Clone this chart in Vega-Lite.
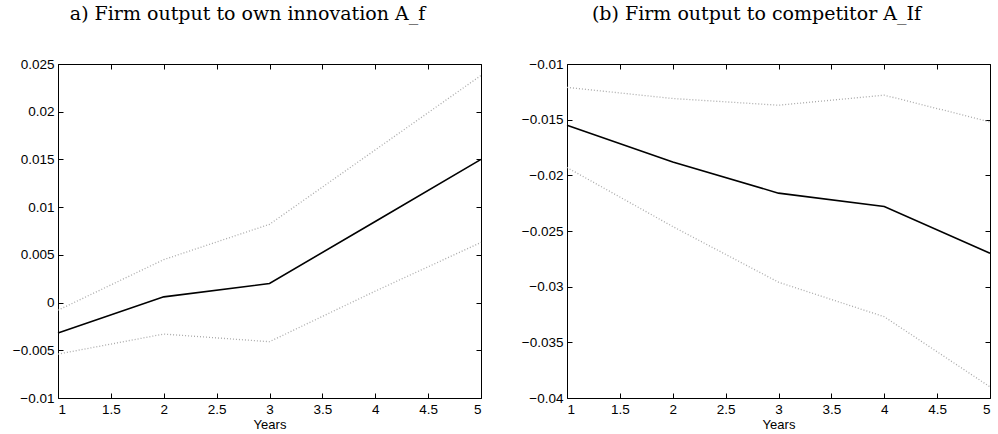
{
  "$schema": "https://vega.github.io/schema/vega-lite/v6.json",
  "background": "white",
  "padding": {"left": 11, "top": 4, "right": 2, "bottom": 0},
  "data": {"values": [
    {"panel": "a", "series": "irf", "year": 1, "value": -0.0032},
    {"panel": "a", "series": "irf", "year": 2, "value": 0.0006},
    {"panel": "a", "series": "irf", "year": 3, "value": 0.002},
    {"panel": "a", "series": "irf", "year": 4, "value": 0.0085},
    {"panel": "a", "series": "irf", "year": 5, "value": 0.015},
    {"panel": "a", "series": "upper", "year": 1, "value": -0.0008},
    {"panel": "a", "series": "upper", "year": 2, "value": 0.0045},
    {"panel": "a", "series": "upper", "year": 3, "value": 0.0082},
    {"panel": "a", "series": "upper", "year": 4, "value": 0.016},
    {"panel": "a", "series": "upper", "year": 5, "value": 0.0238},
    {"panel": "a", "series": "lower", "year": 1, "value": -0.0054},
    {"panel": "a", "series": "lower", "year": 2, "value": -0.0033},
    {"panel": "a", "series": "lower", "year": 3, "value": -0.0041},
    {"panel": "a", "series": "lower", "year": 4, "value": 0.0012},
    {"panel": "a", "series": "lower", "year": 5, "value": 0.0063},
    {"panel": "b", "series": "irf", "year": 1, "value": -0.0155},
    {"panel": "b", "series": "irf", "year": 2, "value": -0.0188},
    {"panel": "b", "series": "irf", "year": 3, "value": -0.0216},
    {"panel": "b", "series": "irf", "year": 4, "value": -0.0228},
    {"panel": "b", "series": "irf", "year": 5, "value": -0.027},
    {"panel": "b", "series": "upper", "year": 1, "value": -0.0121},
    {"panel": "b", "series": "upper", "year": 2, "value": -0.0131},
    {"panel": "b", "series": "upper", "year": 3, "value": -0.0137},
    {"panel": "b", "series": "upper", "year": 4, "value": -0.0128},
    {"panel": "b", "series": "upper", "year": 5, "value": -0.0152},
    {"panel": "b", "series": "lower", "year": 1, "value": -0.0193},
    {"panel": "b", "series": "lower", "year": 2, "value": -0.0246},
    {"panel": "b", "series": "lower", "year": 3, "value": -0.0296},
    {"panel": "b", "series": "lower", "year": 4, "value": -0.0327},
    {"panel": "b", "series": "lower", "year": 5, "value": -0.039}
  ]},
  "config": {
    "view": {"stroke": "black", "strokeWidth": 1},
    "axis": {
      "labelFont": "Liberation Sans", "labelFontSize": 13.5, "labelColor": "black",
      "tickColor": "black", "tickSize": -5, "labelPadding": 9, "domain": false, "grid": false,
      "titleFont": "Liberation Sans", "titleFontSize": 13, "titleFontWeight": "normal", "titleColor": "black"
    },
    "title": {"font": "DejaVu Serif", "fontSize": 19, "fontWeight": "normal", "color": "black", "offset": 33, "dx": -22}
  },
  "spacing": 35,
  "hconcat": [
    {
      "width": 423, "height": 334,
      "title": "a) Firm output to own innovation A_f",
      "transform": [{"filter": "datum.panel == 'a'"}],
      "resolve": {"axis": {"x": "independent", "y": "independent"}},
      "layer": [
        {
          "transform": [{"filter": "datum.series != 'irf'"}],
          "mark": {"type": "line", "color": "#aaaaaa", "strokeWidth": 1.3, "strokeDash": [1, 2]},
          "encoding": {
            "x": {"field": "year", "type": "quantitative", "scale": {"domain": [1, 5], "nice": false},
                  "axis": {"orient": "top", "labels": false, "title": null, "values": [1, 1.5, 2, 2.5, 3, 3.5, 4, 4.5, 5]}},
            "y": {"field": "value", "type": "quantitative", "scale": {"domain": [-0.01, 0.025], "nice": false, "zero": false},
                  "axis": {"orient": "right", "labels": false, "title": null, "values": [-0.01, -0.005, 0, 0.005, 0.01, 0.015, 0.02, 0.025]}},
            "detail": {"field": "series"}
          }
        },
        {
          "transform": [{"filter": "datum.series == 'irf'"}],
          "mark": {"type": "line", "color": "black", "strokeWidth": 1.6},
          "encoding": {
            "x": {"field": "year", "type": "quantitative", "scale": {"domain": [1, 5], "nice": false},
                  "axis": {"orient": "bottom", "title": "Years", "titlePadding": 3, "format": "~g", "values": [1, 1.5, 2, 2.5, 3, 3.5, 4, 4.5, 5]}},
            "y": {"field": "value", "type": "quantitative", "scale": {"domain": [-0.01, 0.025], "nice": false, "zero": false},
                  "axis": {"orient": "left", "title": null, "format": "~g", "values": [-0.01, -0.005, 0, 0.005, 0.01, 0.015, 0.02, 0.025]}}
          }
        }
      ]
    },
    {
      "width": 423, "height": 334,
      "title": "(b) Firm output to competitor A_If",
      "transform": [{"filter": "datum.panel == 'b'"}],
      "resolve": {"axis": {"x": "independent", "y": "independent"}},
      "layer": [
        {
          "transform": [{"filter": "datum.series != 'irf'"}],
          "mark": {"type": "line", "color": "#aaaaaa", "strokeWidth": 1.3, "strokeDash": [1, 2]},
          "encoding": {
            "x": {"field": "year", "type": "quantitative", "scale": {"domain": [1, 5], "nice": false},
                  "axis": {"orient": "top", "labels": false, "title": null, "values": [1, 1.5, 2, 2.5, 3, 3.5, 4, 4.5, 5]}},
            "y": {"field": "value", "type": "quantitative", "scale": {"domain": [-0.04, -0.01], "nice": false, "zero": false},
                  "axis": {"orient": "right", "labels": false, "title": null, "values": [-0.04, -0.035, -0.03, -0.025, -0.02, -0.015, -0.01]}},
            "detail": {"field": "series"}
          }
        },
        {
          "transform": [{"filter": "datum.series == 'irf'"}],
          "mark": {"type": "line", "color": "black", "strokeWidth": 1.6},
          "encoding": {
            "x": {"field": "year", "type": "quantitative", "scale": {"domain": [1, 5], "nice": false},
                  "axis": {"orient": "bottom", "title": "Years", "titlePadding": 3, "format": "~g", "values": [1, 1.5, 2, 2.5, 3, 3.5, 4, 4.5, 5]}},
            "y": {"field": "value", "type": "quantitative", "scale": {"domain": [-0.04, -0.01], "nice": false, "zero": false},
                  "axis": {"orient": "left", "title": null, "format": "~g", "values": [-0.04, -0.035, -0.03, -0.025, -0.02, -0.015, -0.01]}}
          }
        }
      ]
    }
  ]
}
